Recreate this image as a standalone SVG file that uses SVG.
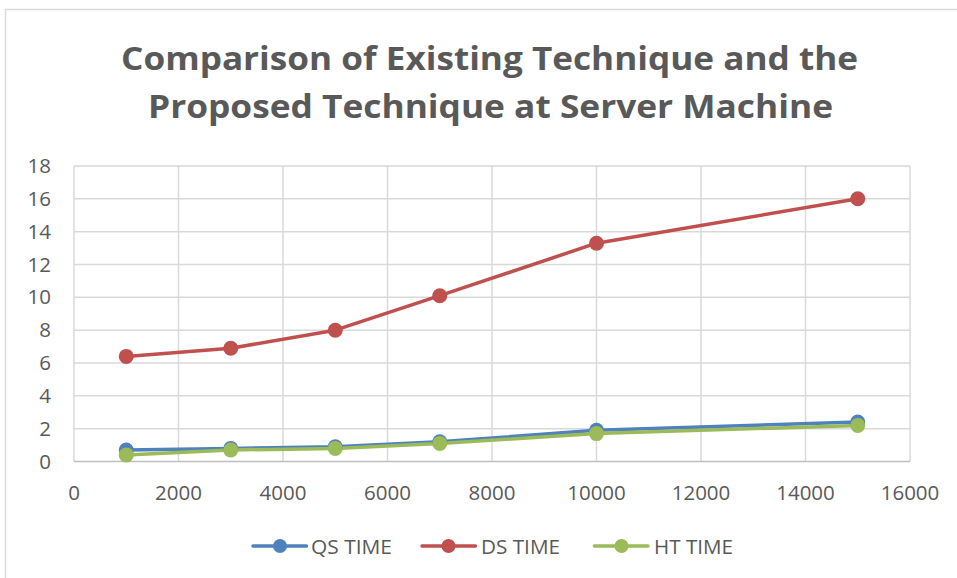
<svg xmlns="http://www.w3.org/2000/svg" width="957" height="578" viewBox="0 0 957 578">
<style>
.title{font-family:"Open Sans","Liberation Sans",sans-serif;font-weight:bold;font-size:32.5px;fill:#595959;text-anchor:middle}
.tick{font-family:"Open Sans","Liberation Sans",sans-serif;font-size:20.5px;fill:#595959}
.ytick{text-anchor:end}
.xtick{text-anchor:middle}
.leg{font-family:"Open Sans","Liberation Sans",sans-serif;font-size:20.5px;fill:#595959}
.grid{stroke:#d9d9d9;stroke-width:1.5;fill:none}
.series{fill:none;stroke-width:3.5;stroke-linecap:round;stroke-linejoin:round}
.qs{stroke:#4f81bd}.ds{stroke:#c0504d}.ht{stroke:#9bbb59}
.mqs{fill:#4f81bd}.mds{fill:#c0504d}.mht{fill:#9bbb59}
</style>
<rect x="0" y="0" width="957" height="578" fill="#ffffff"/>
<path d="M5.5 578 V9.5 H957" fill="none" stroke="#d9d9d9" stroke-width="1.5"/>
<g id="title">
<text class="title" x="489.5" y="70" textLength="737" lengthAdjust="spacingAndGlyphs">Comparison of Existing Technique and the</text>
<text class="title" x="490.5" y="118" textLength="685" lengthAdjust="spacingAndGlyphs">Proposed Technique at Server Machine</text>
</g>
<g id="gridlines">
<path class="grid" d="M74 166H910M74 198.8H910M74 231.7H910M74 264.5H910M74 297.3H910M74 330.2H910M74 363H910M74 395.8H910M74 428.7H910"/>
<path class="grid" d="M74 166V461.5M178.5 166V461.5M283 166V461.5M387.5 166V461.5M492 166V461.5M596.5 166V461.5M701 166V461.5M805.5 166V461.5M910 166V461.5"/>
<path d="M74 461.5H910" stroke="#bfbfbf" stroke-width="1.5"/>
</g>
<g id="y-axis-labels" class="tick ytick">
<text x="51" y="468.5">0</text>
<text x="51" y="435.7">2</text>
<text x="51" y="402.8">4</text>
<text x="51" y="370">6</text>
<text x="51" y="337.2">8</text>
<text x="51" y="304.3">10</text>
<text x="51" y="271.5">12</text>
<text x="51" y="238.7">14</text>
<text x="51" y="205.8">16</text>
<text x="51" y="173">18</text>
</g>
<g id="x-axis-labels" class="tick xtick">
<text x="74" y="500">0</text>
<text x="178.5" y="500">2000</text>
<text x="283" y="500">4000</text>
<text x="387.5" y="500">6000</text>
<text x="492" y="500">8000</text>
<text x="596.5" y="500">10000</text>
<text x="701" y="500">12000</text>
<text x="805.5" y="500">14000</text>
<text x="910" y="500">16000</text>
</g>
<g id="connectors">
<polyline id="qs-line" class="series qs" points="126.25,450 230.75,448.4 335.25,446.7 439.75,441.8 596.5,430.3 857.75,422.1"/>
<polyline id="ds-line" class="series ds" points="126.25,356.4 230.75,348.2 335.25,330.2 439.75,295.7 596.5,243.2 857.75,198.8"/>
<polyline id="ht-line" class="series ht" points="126.25,454.9 230.75,450 335.25,448.4 439.75,443.4 596.5,433.6 857.75,425.4"/>
</g>
<g id="qs-markers" class="mqs">
<circle cx="126.25" cy="450" r="7.5"/><circle cx="230.75" cy="448.4" r="7.5"/><circle cx="335.25" cy="446.7" r="7.5"/><circle cx="439.75" cy="441.8" r="7.5"/><circle cx="596.5" cy="430.3" r="7.5"/><circle cx="857.75" cy="422.1" r="7.5"/>
</g>
<g id="ds-markers" class="mds">
<circle cx="126.25" cy="356.4" r="7.5"/><circle cx="230.75" cy="348.2" r="7.5"/><circle cx="335.25" cy="330.2" r="7.5"/><circle cx="439.75" cy="295.7" r="7.5"/><circle cx="596.5" cy="243.2" r="7.5"/><circle cx="857.75" cy="198.8" r="7.5"/>
</g>
<g id="ht-markers" class="mht">
<circle cx="126.25" cy="454.9" r="7.5"/><circle cx="230.75" cy="450" r="7.5"/><circle cx="335.25" cy="448.4" r="7.5"/><circle cx="439.75" cy="443.4" r="7.5"/><circle cx="596.5" cy="433.6" r="7.5"/><circle cx="857.75" cy="425.4" r="7.5"/>
</g>
<g id="legend">
<g id="legend-qs">
<path class="series qs" d="M253 546H306.5"/><circle class="mqs" cx="280" cy="546" r="7"/>
<text class="leg" x="311" y="553.5" textLength="81" lengthAdjust="spacingAndGlyphs">QS TIME</text>
</g>
<g id="legend-ds">
<path class="series ds" d="M422 546H475.5"/><circle class="mds" cx="448.5" cy="546" r="7"/>
<text class="leg" x="481" y="553.5" textLength="79" lengthAdjust="spacingAndGlyphs">DS TIME</text>
</g>
<g id="legend-ht">
<path class="series ht" d="M594.5 546H648"/><circle class="mht" cx="621.5" cy="546" r="7"/>
<text class="leg" x="654" y="553.5" textLength="79" lengthAdjust="spacingAndGlyphs">HT TIME</text>
</g>
</g>
</svg>
